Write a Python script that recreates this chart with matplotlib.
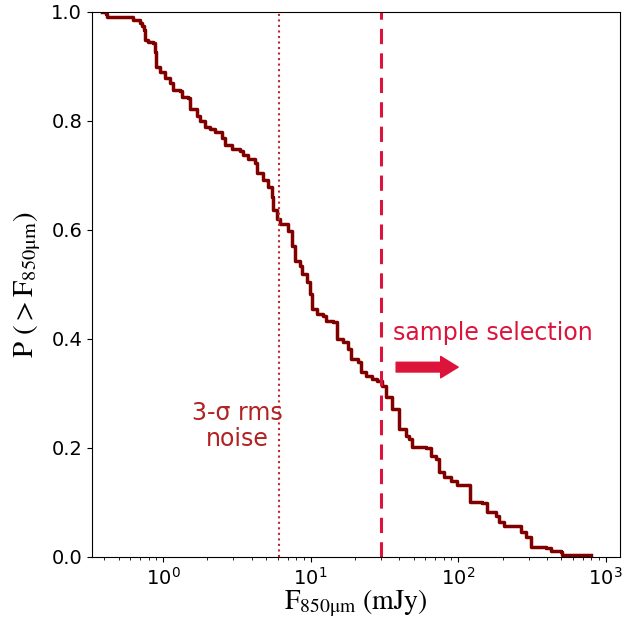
import numpy as np
import matplotlib
matplotlib.use('Agg')
import matplotlib.pyplot as plt

plt.rcParams['mathtext.fontset'] = 'stix'

# fluxes (mJy) where the cumulative distribution steps down, and the level after each step
flux = [0.387, 0.410, 0.418, 0.627, 0.699, 0.721, 0.744, 0.755, 0.792, 0.856,
        0.883, 0.897, 0.954, 1.03, 1.115, 1.17, 1.30, 1.34, 1.48, 1.52,
        1.70, 1.78, 1.92, 2.08, 2.24, 2.50, 2.62, 2.92, 3.31, 3.47,
        3.75, 4.19, 4.32, 4.74, 5.12, 5.45, 5.54, 5.89, 6.18, 7.00,
        7.44, 7.80, 8.43, 8.69, 9.40, 9.85, 10.3, 11.0, 12.1, 12.8,
        14.1, 15.0, 16.5, 17.8, 18.9, 20.8, 22.1, 23.9, 26.2, 28.4,
        30.6, 32.6, 35.8, 39.9, 44.5, 46.7, 48.9, 60.8, 65.7, 71.0,
        74.4, 80.4, 89.7, 98.4, 121.0, 145, 157, 181, 189, 205,
        267, 288, 311, 393, 425, 497, 505, 792]
prob = [1.000, 0.995, 0.991, 0.985, 0.980, 0.973, 0.967, 0.949, 0.945, 0.943,
        0.927, 0.899, 0.890, 0.879, 0.870, 0.857, 0.855, 0.844, 0.842, 0.821,
        0.808, 0.799, 0.789, 0.784, 0.780, 0.769, 0.756, 0.749, 0.745, 0.738,
        0.729, 0.723, 0.705, 0.692, 0.679, 0.661, 0.637, 0.619, 0.610, 0.597,
        0.570, 0.542, 0.533, 0.518, 0.504, 0.482, 0.454, 0.445, 0.441, 0.432,
        0.430, 0.399, 0.394, 0.381, 0.363, 0.357, 0.339, 0.332, 0.326, 0.322,
        0.313, 0.293, 0.271, 0.234, 0.222, 0.216, 0.201, 0.200, 0.185, 0.179,
        0.156, 0.147, 0.139, 0.132, 0.101, 0.099, 0.082, 0.075, 0.064, 0.057,
        0.046, 0.037, 0.018, 0.016, 0.011, 0.009, 0.004, 0.004]

rms_cut = 6.1      # 3-sigma rms noise
sel_cut = 30.0     # sample selection threshold

fig = plt.figure(figsize=(6.34, 6.18), dpi=100)
ax = fig.add_axes([0.145, 0.099, 0.833, 0.882])

ax.step(flux, prob, where='post', color='#800000', lw=2.5)
ax.axvline(rms_cut, color='#c0272d', ls=':', lw=1.5)
ax.axvline(sel_cut, color='#dc143c', ls='--', lw=2.2, dashes=(5, 3))

ax.text(3.2, 0.24, '3-σ rms\nnoise', color='#b22222', fontsize=17,
        ha='center', va='center', linespacing=1.15)
ax.text(36, 0.41, 'sample selection', color='#dc143c', fontsize=17,
        ha='left', va='center')
ax.annotate('', xy=(100, 0.348), xytext=(38, 0.348),
            arrowprops=dict(arrowstyle='simple,head_width=1.1,head_length=0.9,tail_width=0.5',
                            color='#dc143c', shrinkA=0, shrinkB=0, mutation_scale=14))

ax.set_xscale('log')
ax.set_xlim(0.33, 1250)
ax.set_ylim(0, 1.0)
ax.set_yticks([0, 0.2, 0.4, 0.6, 0.8, 1.0])
ax.tick_params(labelsize=14)
ax.set_xlabel(r'$\mathrm{F_{850\mu m}\ (mJy)}$', fontsize=20, labelpad=-1)
ax.set_ylabel(r'$\mathrm{P\ (>F_{850\mu m})}$', fontsize=21, labelpad=6)

fig.savefig('out.png', dpi=100)
